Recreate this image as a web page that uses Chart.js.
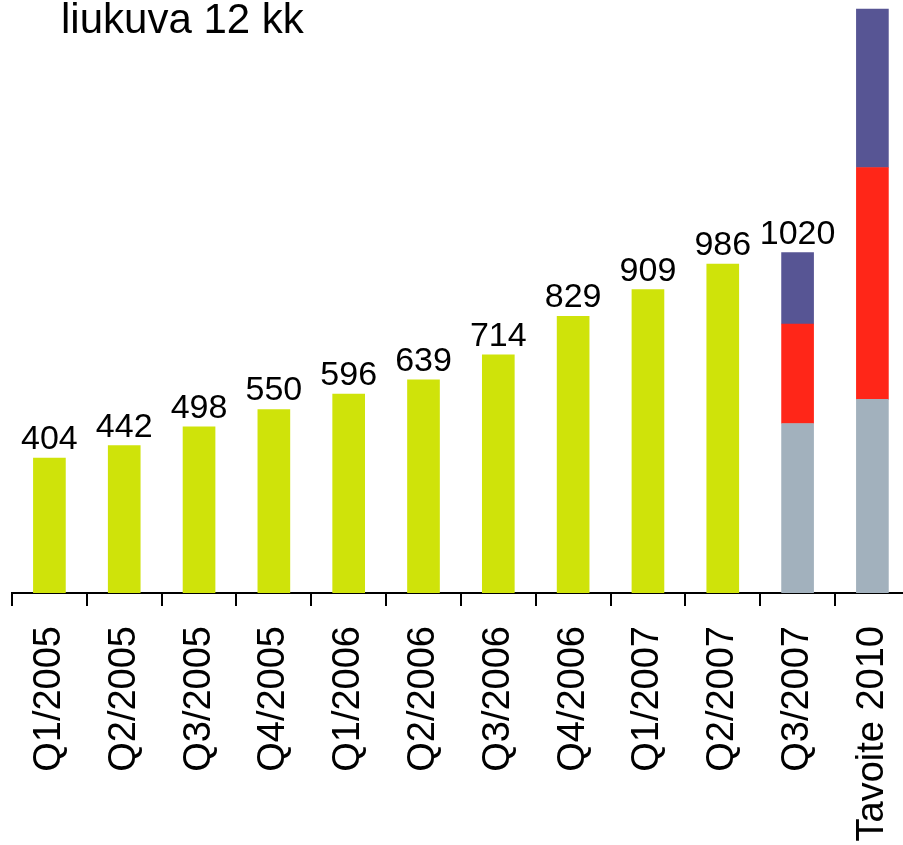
<!DOCTYPE html>
<html>
<head>
<meta charset="utf-8">
<script src="https://cdn.jsdelivr.net/npm/chart.js@4.4.1/dist/chart.umd.min.js"></script>
<style>
  html, body { margin: 0; padding: 0; background: #fff; overflow: hidden; }
  #wrap { position: relative; width: 938px; height: 845px; }
</style>
</head>
<body>
<div id="wrap"><canvas id="c"></canvas></div>
<script>
const categories = ['Q1/2005','Q2/2005','Q3/2005','Q4/2005','Q1/2006','Q2/2006','Q3/2006','Q4/2006','Q1/2007','Q2/2007','Q3/2007','Tavoite 2010'];
const actualValues = [404, 442, 498, 550, 596, 639, 714, 829, 909, 986, null, null];
const grayValues   = [null, null, null, null, null, null, null, null, null, null, 508, 580];
const redValues    = [null, null, null, null, null, null, null, null, null, null, 298, 695];
const blueValues   = [null, null, null, null, null, null, null, null, null, null, 214, 475];
const valueLabels  = ['404','442','498','550','596','639','714','829','909','986','1020',''];
const titleText = 'liukuva 12 kk';

const FONT = '"Liberation Sans", Arial, sans-serif';

const labelPlugin = {
  id: 'labels',
  afterDatasetsDraw(chart) {
    const ctx = chart.ctx;
    ctx.save();
    ctx.fillStyle = '#000';
    ctx.font = '34px ' + FONT;
    ctx.textAlign = 'center';
    ctx.textBaseline = 'alphabetic';
    const n = categories.length;
    for (let i = 0; i < n; i++) {
      if (!valueLabels[i]) continue;
      let top = Infinity, x = null;
      chart.data.datasets.forEach((ds, di) => {
        const el = chart.getDatasetMeta(di).data[i];
        if (ds.data[i] != null && el) { top = Math.min(top, el.y); x = el.x; }
      });
      if (x !== null) ctx.fillText(valueLabels[i], x, top - 9);
    }
    ctx.font = '42px ' + FONT;
    ctx.textAlign = 'left';
    ctx.fillText(titleText, 61, 33);
    ctx.restore();
  }
};

new Chart(document.getElementById('c'), {
  type: 'bar',
  data: {
    labels: categories,
    datasets: [
      { data: actualValues, backgroundColor: '#cfe30a', stack: 's' },
      { data: grayValues, backgroundColor: '#a2b1bd', stack: 's' },
      { data: redValues, backgroundColor: '#ff2618', stack: 's' },
      { data: blueValues, backgroundColor: '#575594', stack: 's' }
    ]
  },
  options: {
    responsive: true,
    maintainAspectRatio: false,
    animation: false,
    layout: { padding: { left: 12, right: 0, top: 0, bottom: 0 } },
    plugins: { legend: { display: false }, tooltip: { enabled: false }, title: { display: false } },
    datasets: { bar: { barThickness: 32 } },
    scales: {
      x: {
        stacked: true,
        grid: { display: true, drawOnChartArea: false, drawTicks: true, tickLength: 13, color: '#000', lineWidth: 2, offset: true },
        border: { display: true, color: '#000', width: 2 },
        ticks: { color: '#000', font: { family: FONT, size: 38 }, minRotation: 90, maxRotation: 90, padding: 20, autoSkip: false },
        afterFit(scale) { scale.height = 252; }
      },
      y: {
        stacked: true,
        display: false,
        min: 0,
        max: 1777
      }
    }
  },
  plugins: [labelPlugin]
});
</script>
</body>
</html>
